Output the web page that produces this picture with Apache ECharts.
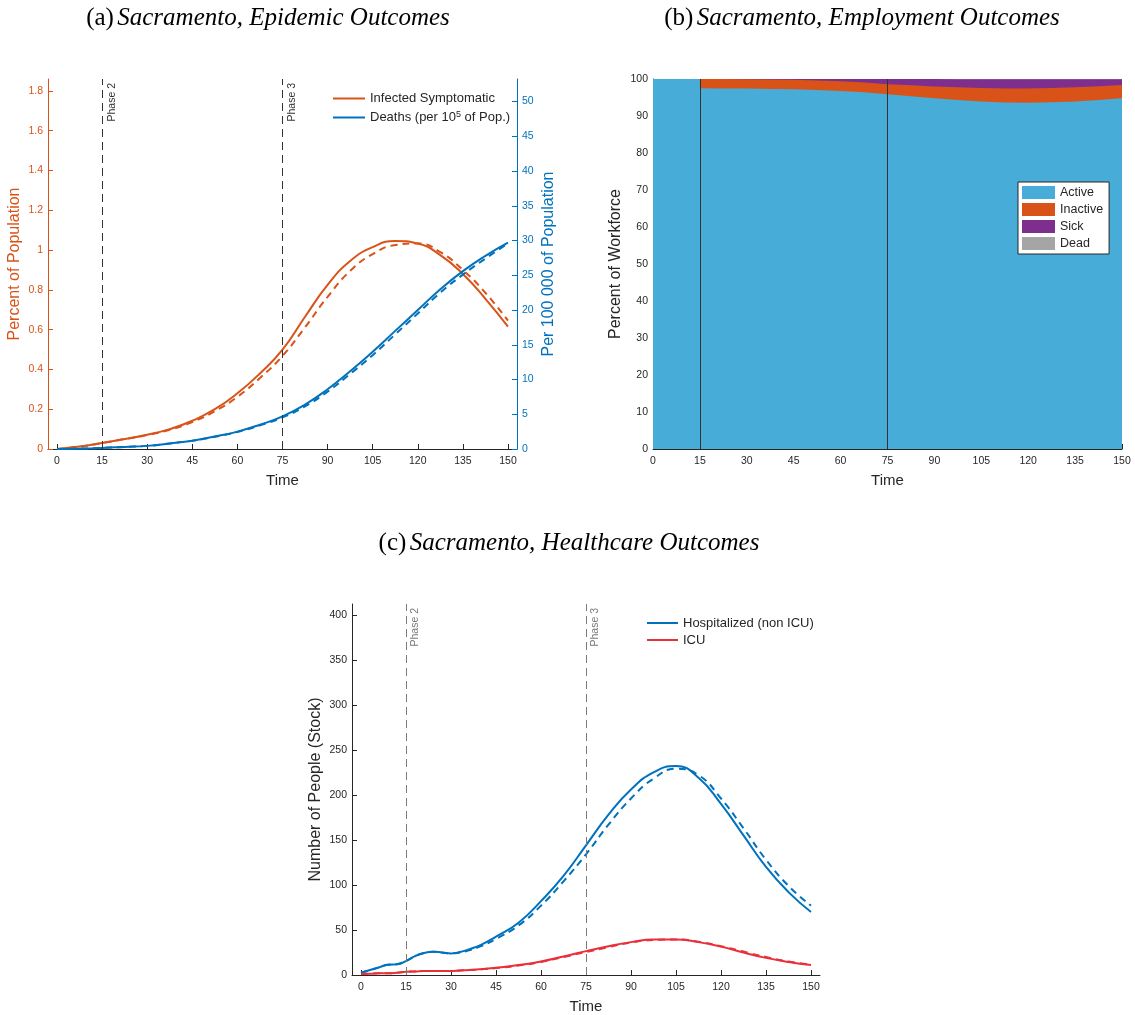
<!DOCTYPE html>
<html><head><meta charset="utf-8">
<script src="https://cdn.jsdelivr.net/npm/echarts@6/dist/echarts.min.js"></script>
<style>html,body{margin:0;padding:0;background:#fff}#c{width:1135px;height:1015px}</style>
</head><body><div id="c"></div>
<script>
// ---------- data ----------
const X_TICKS = [0,15,30,45,60,75,90,105,120,135,150];
const PHASE_T = [15, 75];
const PHASE_NAMES = ['Phase 2', 'Phase 3'];

// (a) epidemic outcomes
const T_A = [0,7.5,15,22.5,30,37.5,45,52.5,60,67.5,75,82.5,90,97.5,105,112.5,120,127.5,135,142.5,150];
const INF_SOLID = [0.000,0.012,0.030,0.050,0.072,0.100,0.142,0.200,0.280,0.380,0.500,0.665,0.825,0.945,1.015,1.046,1.033,0.975,0.880,0.755,0.615];
const INF_DASH  = [0.000,0.012,0.030,0.050,0.070,0.097,0.135,0.190,0.262,0.357,0.468,0.612,0.765,0.895,0.980,1.025,1.033,0.990,0.900,0.785,0.645];
const DEATH_SOLID = [0,0.05,0.15,0.3,0.45,0.8,1.2,1.8,2.5,3.5,4.7,6.4,8.6,11.2,14.0,17.0,20.0,23.0,25.6,27.8,29.7];
const DEATH_DASH  = [0,0.05,0.15,0.3,0.45,0.8,1.2,1.75,2.45,3.4,4.55,6.15,8.25,10.8,13.5,16.5,19.5,22.5,25.1,27.4,29.6];
const A_LEFT_TICKS = [0,0.2,0.4,0.6,0.8,1,1.2,1.4,1.6,1.8];
const A_RIGHT_TICKS = [0,5,10,15,20,25,30,35,40,45,50];

// (b) employment outcomes (percent of workforce)
const T_B = [0,7.5,15,15,22.5,30,37.5,45,52.5,60,67.5,75,82.5,90,97.5,105,112.5,120,127.5,135,142.5,150];
const ACTIVE   = [100,100,100,97.5,97.45,97.4,97.3,97.2,97.0,96.75,96.4,95.9,95.35,94.8,94.3,93.9,93.65,93.6,93.7,93.95,94.35,94.8];
const INACTIVE = [0,0,0,2.5,2.52,2.55,2.57,2.6,2.62,2.64,2.67,2.7,2.95,3.2,3.45,3.65,3.8,3.85,3.85,3.8,3.7,3.6];
const SICK     = [0,0,0,0,0.03,0.05,0.13,0.19,0.37,0.6,0.91,1.38,1.67,1.97,2.21,2.41,2.5,2.5,2.39,2.19,1.88,1.53];
const DEAD     = [0,0,0,0,0,0,0,0.01,0.01,0.01,0.02,0.02,0.03,0.03,0.04,0.04,0.05,0.05,0.06,0.06,0.07,0.07];

// (c) healthcare outcomes
const T_C = [0,3,6,9,12,15,18,21,24,27,30,33,36,40,45,52.5,60,67.5,75,82.5,90,97.5,105,112.5,120,127.5,135,142.5,150];
const HOSP_SOLID = [2.5,5.5,8.5,11.5,12,15.5,21,24.5,25.8,25,24,25.5,28.5,33.5,42.5,58,82,110,144,178,206,225,232,219,190,155,120,92,70];
const HOSP_DASH  = [2.5,5.5,8.5,11.5,12,15.5,21,24.5,25.8,25,24,25,27.5,32,40,55,77,104,134,167,196,218,229,222,196,163,128,99,77];
const ICU_SOLID = [1,1.5,2,2,2.5,3.5,4,4.5,4.5,4.5,4.5,5,5.5,6.5,8,11,15,20.5,26.5,32,36.5,39.5,39.5,36.5,31.5,25,19,14.5,11];
const ICU_DASH  = [1,1.5,2,2,2.5,3.5,4,4.5,4.5,4.5,4.5,5,5.5,6.3,7.7,10.5,14.5,20,25.5,31,36,39,39.5,37,32,26,20,15,11.5];
const C_TICKS = [0,50,100,150,200,250,300,350,400];

// ---------- styling ----------
const SANS = '"Liberation Sans", Arial, sans-serif';
const SERIF = '"Liberation Serif", "Times New Roman", serif';
const INK = '#262626';
const ORANGE = '#D95319', BLUE = '#0072BD', RED = '#E8303A';
const C_ACTIVE = '#47ACD8', C_INACT = '#D95319', C_SICK = '#7E2F8E', C_DEAD = '#A5A5A5';
const DASH = [7, 5];

const zip = (xs, ys) => xs.map((x, i) => [x, ys[i]]);
// layered (cumulative) tops for the stacked-area panel
const addArr = (a, b) => a.map((v, i) => v + b[i]);
const TOP_ACTIVE = ACTIVE;
const TOP_INACT = addArr(TOP_ACTIVE, INACTIVE);
const TOP_SICK = addArr(TOP_INACT, SICK);
const TOP_DEAD = addArr(TOP_SICK, DEAD);

function xAxisCfg(gridIndex, min, max, custom) {
  const a = {
    type: 'value', gridIndex, min, max,
    name: 'Time', nameLocation: 'middle', nameGap: 24,
    nameTextStyle: {fontFamily: SANS, fontSize: 15, color: INK},
    axisLine: {show: true, lineStyle: {color: INK, width: 1}},
    axisTick: {show: true, inside: true, length: 5, lineStyle: {color: INK}},
    axisLabel: {fontFamily: SANS, fontSize: 10.5, color: INK, margin: 7},
    splitLine: {show: false}
  };
  if (custom) { a.axisTick.customValues = X_TICKS; a.axisLabel.customValues = X_TICKS; }
  else { a.interval = 15; }
  return a;
}
function yAxisCfg(gridIndex, opts) {
  const col = opts.color || INK;
  const a = {
    type: 'value', gridIndex, min: 0, max: opts.max, position: opts.position || 'left',
    name: opts.name, nameLocation: 'middle', nameGap: opts.nameGap, nameRotate: 90,
    nameTextStyle: {fontFamily: SANS, fontSize: 16, color: col},
    axisLine: {show: true, onZero: false, lineStyle: {color: col, width: 1}},
    axisTick: {show: true, inside: true, length: 5, lineStyle: {color: col}},
    axisLabel: {fontFamily: SANS, fontSize: 10.5, color: col, margin: 5},
    splitLine: {show: false}
  };
  if (opts.ticks) { a.axisTick.customValues = opts.ticks; a.axisLabel.customValues = opts.ticks; }
  else { a.interval = opts.interval; }
  return a;
}
function phaseMarks(color, dashed) {
  return {
    silent: true, symbol: ['none', 'none'], animation: false,
    lineStyle: {color, width: 1, type: dashed ? [8, 5] : 'solid'},
    label: dashed ? {show: true, position: 'insideEndBottom', formatter: p => p.name,
      fontFamily: SANS, fontSize: 10.5, color, distance: 4} : {show: false},
    data: PHASE_T.map((t, i) => ({name: PHASE_NAMES[i], xAxis: t}))
  };
}
function lineSeries(name, data, x, y, color, dashed, extra) {
  return Object.assign({
    type: 'line', name, data, xAxisIndex: x, yAxisIndex: y,
    smooth: true, showSymbol: false, symbol: 'none', animation: false,
    lineStyle: {color, width: 2, type: dashed ? DASH : 'solid'},
    itemStyle: {color}
  }, extra || {});
}
function areaSeries(name, data, color, extra) {
  return Object.assign({
    type: 'line', name, data: zip(T_B, data), xAxisIndex: 1, yAxisIndex: 2,
    showSymbol: false, symbol: 'none', animation: false,
    lineStyle: {width: 0}, areaStyle: {color, opacity: 1, origin: 'start'}, itemStyle: {color}
  }, extra || {});
}

const DEATH_NAME = 'Deaths (per 10^5 of Pop.)';
function titleText(x, y, tag, body) {
  return {type: 'text', x, y, style: {text: '{n|' + tag + '} {i|' + body + '}', textAlign: 'center', textVerticalAlign: 'middle',
    rich: {n: {fontFamily: SERIF, fontSize: 25, fill: '#000'}, i: {fontFamily: SERIF, fontSize: 25, fontStyle: 'italic', fill: '#000'}}}};
}

const option = {
  backgroundColor: '#fff',
  animation: false,
  grid: [
    {left: 48, top: 79, width: 469, height: 370},
    {left: 653, top: 79, width: 469, height: 370},
    {left: 352, top: 604, width: 468, height: 371}
  ],
  xAxis: [
    xAxisCfg(0, -3, 153, true),
    xAxisCfg(1, 0, 150, false),
    xAxisCfg(2, -3, 153, true)
  ],
  yAxis: [
    yAxisCfg(0, {max: 1.86, ticks: A_LEFT_TICKS, color: ORANGE, name: 'Percent of Population', nameGap: 25}),
    yAxisCfg(0, {max: 53.25, ticks: A_RIGHT_TICKS, color: BLUE, position: 'right', name: 'Per 100 000 of Population', nameGap: 24}),
    yAxisCfg(1, {max: 100, interval: 10, name: 'Percent of Workforce', nameGap: 29}),
    yAxisCfg(2, {max: 412, ticks: C_TICKS, name: 'Number of People (Stock)', nameGap: 28})
  ],
  legend: [
    {data: ['Infected Symptomatic', DEATH_NAME], orient: 'vertical', left: 328, top: 86,
     icon: 'rect', itemWidth: 32, itemHeight: 2, itemGap: 4, selectedMode: false,
     textStyle: {fontFamily: SANS, fontSize: 13, color: INK, lineHeight: 15,
       rich: {t: {fontFamily: SANS, fontSize: 13, color: INK, lineHeight: 15},
              s: {fontFamily: SANS, fontSize: 9, color: INK, verticalAlign: 'top', padding: [0, 0, 8, 0]}}},
     formatter: n => n === DEATH_NAME ? '{t|Deaths (per 10}{s|5}{t| of Pop.)}' : n},
    {data: ['Active', 'Inactive', 'Sick', 'Dead'], orient: 'vertical', left: 1018, top: 182,
     icon: 'rect', itemWidth: 33, itemHeight: 13, itemGap: 4, selectedMode: false,
     padding: [4, 6, 4, 4], backgroundColor: '#fff', borderColor: INK, borderWidth: 1,
     textStyle: {fontFamily: SANS, fontSize: 12.5, color: INK}},
    {data: ['Hospitalized (non ICU)', 'ICU'], orient: 'vertical', left: 642, top: 611,
     icon: 'rect', itemWidth: 31, itemHeight: 2, itemGap: 3, selectedMode: false,
     textStyle: {fontFamily: SANS, fontSize: 13, color: INK, lineHeight: 14}}
  ],
  graphic: [
    titleText(268, 18, '(a)', 'Sacramento, Epidemic Outcomes'),
    titleText(862, 18, '(b)', 'Sacramento, Employment Outcomes'),
    titleText(569, 543, '(c)', 'Sacramento, Healthcare Outcomes')
  ],
  series: [
    // (a)
    lineSeries('Infected Symptomatic', zip(T_A, INF_SOLID), 0, 0, ORANGE, false, {markLine: phaseMarks('#333333', true)}),
    lineSeries('Infected Symptomatic (dashed)', zip(T_A, INF_DASH), 0, 0, ORANGE, true),
    lineSeries(DEATH_NAME, zip(T_A, DEATH_SOLID), 0, 1, BLUE, false),
    lineSeries('Deaths (dashed)', zip(T_A, DEATH_DASH), 0, 1, BLUE, true),
    // (b) layered areas: drawn top layer first so each lower layer paints over it
    areaSeries('Dead', TOP_DEAD, C_DEAD),
    areaSeries('Sick', TOP_SICK, C_SICK),
    areaSeries('Inactive', TOP_INACT, C_INACT),
    areaSeries('Active', TOP_ACTIVE, C_ACTIVE, {markLine: phaseMarks('#333333', false)}),
    // (c)
    lineSeries('Hospitalized (non ICU)', zip(T_C, HOSP_SOLID), 2, 3, BLUE, false, {markLine: phaseMarks('#7a7a7a', true)}),
    lineSeries('Hospitalized (dashed)', zip(T_C, HOSP_DASH), 2, 3, BLUE, true),
    lineSeries('ICU', zip(T_C, ICU_SOLID), 2, 3, RED, false),
    lineSeries('ICU (dashed)', zip(T_C, ICU_DASH), 2, 3, RED, true)
  ]
};

const chart = echarts.init(document.getElementById('c'), null, {renderer: 'canvas'});
chart.setOption(option);
</script>
</body></html>
